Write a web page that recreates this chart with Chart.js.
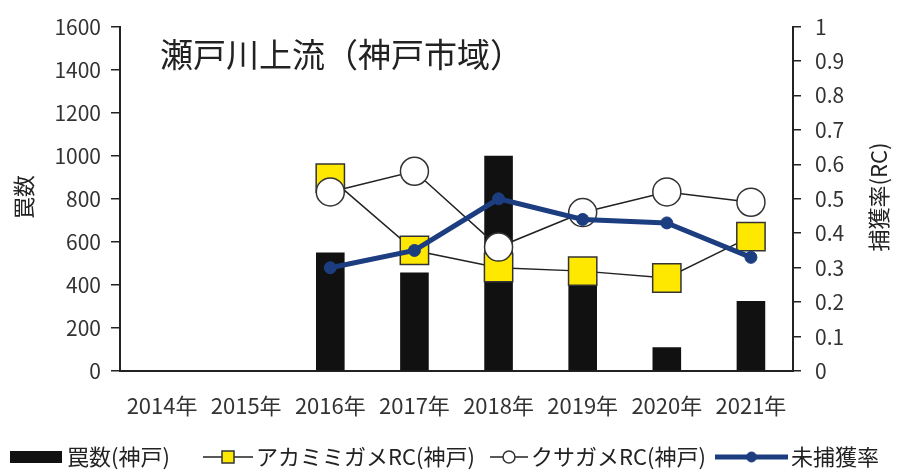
<!DOCTYPE html>
<html lang="ja">
<head>
<meta charset="utf-8">
<title>瀬戸川上流（神戸市域）</title>
<script src="https://cdn.jsdelivr.net/npm/chart.js@4.4.1/dist/chart.umd.min.js"></script>
<style>
  html, body { margin: 0; padding: 0; background: #fff; }
  #wrap { width: 901px; height: 470px; position: relative; }
</style>
</head>
<body>
<div id="wrap"><canvas id="rcChart"></canvas></div>
<script>
const years = ["2014年", "2015年", "2016年", "2017年", "2018年", "2019年", "2020年", "2021年"];
const trapCounts = [null, null, 550, 458, 1000, 420, 110, 325]; // 罠数(神戸)
const akamimiRC = [null, null, 0.56, 0.35, 0.30, 0.29, 0.27, 0.39];
const kusagameRC = [null, null, 0.52, 0.58, 0.36, 0.46, 0.52, 0.49];
const uncaughtRate = [null, null, 0.30, 0.35, 0.50, 0.44, 0.43, 0.33];

const countMax = 1600;
const countStep = 200;
const rateMax = 1;
const rateStep = 0.1;

const chartTitle = "瀬戸川上流（神戸市域）";
const leftTitle = "罠数";
const rightTitle = "捕獲率(RC)";
const legendLabels = ["罠数(神戸)", "アカミミガメRC(神戸)", "クサガメRC(神戸)", "未捕獲率"];

const FONT = "'Noto Sans CJK JP', 'Noto Sans', sans-serif";
const INK = "#222";
const NAVY = "#1c3d80";

// タイトル・軸タイトル・凡例はキャンバスに直接描く
const decorations = {
  id: "decorations",
  afterDraw(chart) {
    const ctx = chart.ctx;
    ctx.save();
    ctx.fillStyle = INK;

    // グラフ内タイトル
    ctx.font = "33px " + FONT;
    ctx.textAlign = "left";
    ctx.textBaseline = "middle";
    ctx.fillText(chartTitle, 160, 54);

    // 軸タイトル（どちらも下から上へ）
    ctx.font = "22px " + FONT;
    ctx.textAlign = "center";
    ctx.save();
    ctx.translate(24, 197);
    ctx.rotate(-Math.PI / 2);
    ctx.fillText(leftTitle, 0, 0);
    ctx.restore();
    ctx.save();
    ctx.translate(879, 197);
    ctx.rotate(-Math.PI / 2);
    ctx.fillText(rightTitle, 0, 0);
    ctx.restore();

    // 凡例
    const ly = 457;
    const ds = chart.data.datasets;
    ctx.font = "22px " + FONT;
    ctx.textAlign = "left";

    ctx.fillStyle = ds[0].backgroundColor;
    ctx.fillRect(10, ly - 6, 52, 12);
    ctx.fillStyle = INK;
    ctx.fillText(legendLabels[0], 67, ly);

    const items = [
      { ds: ds[1], x0: 203, x1: 253, r: 6 },
      { ds: ds[2], x0: 490, x1: 528, r: 6 },
      { ds: ds[3], x0: 715, x1: 788, r: 5 }
    ];
    items.forEach((it, i) => {
      const cx = (it.x0 + it.x1) / 2;
      ctx.strokeStyle = it.ds.borderColor;
      ctx.lineWidth = it.ds.borderWidth;
      ctx.beginPath();
      ctx.moveTo(it.x0, ly);
      ctx.lineTo(it.x1, ly);
      ctx.stroke();
      ctx.fillStyle = it.ds.pointBackgroundColor;
      ctx.strokeStyle = it.ds.pointBorderColor;
      ctx.lineWidth = it.ds.pointBorderWidth;
      ctx.beginPath();
      if (it.ds.pointStyle === "rect") {
        ctx.rect(cx - it.r, ly - it.r, it.r * 2, it.r * 2);
      } else {
        ctx.arc(cx, ly, it.r, 0, Math.PI * 2);
      }
      ctx.fill();
      ctx.stroke();
      ctx.fillStyle = INK;
      ctx.fillText(legendLabels[i + 1], it.x1 + 3, ly);
    });

    ctx.restore();
  }
};

const tickFont = { family: FONT, size: 21 };

new Chart(document.getElementById("rcChart"), {
  data: {
    labels: years,
    datasets: [
      {
        type: "bar",
        label: legendLabels[0],
        data: trapCounts,
        yAxisID: "y",
        backgroundColor: "#111",
        borderWidth: 0,
        barPercentage: 0.34,
        categoryPercentage: 1,
        order: 4
      },
      {
        type: "line",
        label: legendLabels[1],
        data: akamimiRC,
        yAxisID: "y1",
        borderColor: INK,
        borderWidth: 1.5,
        pointStyle: "rect",
        pointRadius: 20,
        pointBackgroundColor: "#ffe800",
        pointBorderColor: "#333",
        pointBorderWidth: 1.5,
        order: 3
      },
      {
        type: "line",
        label: legendLabels[2],
        data: kusagameRC,
        yAxisID: "y1",
        borderColor: INK,
        borderWidth: 1.5,
        pointStyle: "circle",
        pointRadius: 14,
        pointBackgroundColor: "#fff",
        pointBorderColor: "#333",
        pointBorderWidth: 1.5,
        order: 2
      },
      {
        type: "line",
        label: legendLabels[3],
        data: uncaughtRate,
        yAxisID: "y1",
        borderColor: NAVY,
        borderWidth: 5,
        pointStyle: "circle",
        pointRadius: 6,
        pointBackgroundColor: NAVY,
        pointBorderColor: NAVY,
        pointBorderWidth: 1,
        order: 1
      }
    ]
  },
  options: {
    responsive: true,
    maintainAspectRatio: false,
    animation: false,
    layout: { padding: { top: 26, bottom: 53, left: 0, right: 0 } },
    plugins: {
      legend: { display: false },
      tooltip: { enabled: false }
    },
    scales: {
      x: {
        offset: true,
        grid: { display: false },
        border: { display: true, color: INK, width: 2 },
        ticks: { color: "#333", font: { family: FONT, size: 22 }, padding: 13, maxRotation: 0, autoSkip: false },
        afterFit: (scale) => { scale.height = 46; }
      },
      y: {
        position: "left",
        min: 0,
        max: countMax,
        grid: { drawOnChartArea: false, drawTicks: true, tickLength: 9, color: INK, lineWidth: 1.5 },
        border: { display: true, color: INK, width: 2 },
        ticks: {
          stepSize: countStep,
          color: "#333",
          font: tickFont,
          padding: 10,
          callback: (v) => String(v)
        },
        afterFit: (scale) => { scale.width = 120; }
      },
      y1: {
        position: "right",
        min: 0,
        max: rateMax,
        grid: { drawOnChartArea: false, drawTicks: true, tickLength: 8, color: INK, lineWidth: 1.5 },
        border: { display: true, color: INK, width: 2 },
        ticks: {
          stepSize: rateStep,
          color: "#333",
          font: tickFont,
          padding: 14,
          callback: (v) => String(Number(v.toFixed(1)))
        },
        afterFit: (scale) => { scale.width = 108; }
      }
    }
  },
  plugins: [decorations]
});
</script>
</body>
</html>
